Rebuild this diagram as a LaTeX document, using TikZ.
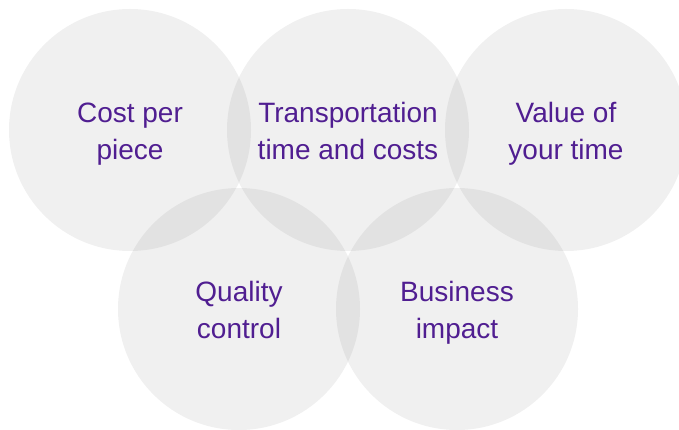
\documentclass[tikz,border=0pt]{standalone}
\usepackage{fontspec}
\setmainfont{Liberation Sans}
\definecolor{ringtext}{RGB}{80,30,145}
\tikzset{
	ring/.style={circle,minimum size=242pt,inner sep=0pt,fill=black,fill opacity=0.06},
	ringlabel/.style={text=ringtext,align=center,font=\fontsize{28}{37}\selectfont,yshift=-4pt}
}

\begin{document}
\begin{tikzpicture}[x=1pt,y=-1pt]
	\useasboundingbox (0,0) rectangle (679,430);
	\clip (0,0) rectangle (679,430);

	\node [ring] (cost) at (130,130) {};
	\node [ring] (transport) at (348,130) {};
	\node [ring] (value) at (566,130) {};
	\node [ring] (quality) at (239,309) {};
	\node [ring] (impact) at (457,309) {};

	\node [ringlabel] (costtext) at (cost) {\strut Cost per\\piece\strut};
	\node [ringlabel] (transporttext) at (transport) {\strut Transportation\\time and costs\strut};
	\node [ringlabel] (valuetext) at (value) {\strut Value of\\your time\strut};
	\node [ringlabel] (qualitytext) at (quality) {\strut Quality\\control\strut};
	\node [ringlabel] (impacttext) at (impact) {\strut Business\\impact\strut};
\end{tikzpicture}
\end{document}
